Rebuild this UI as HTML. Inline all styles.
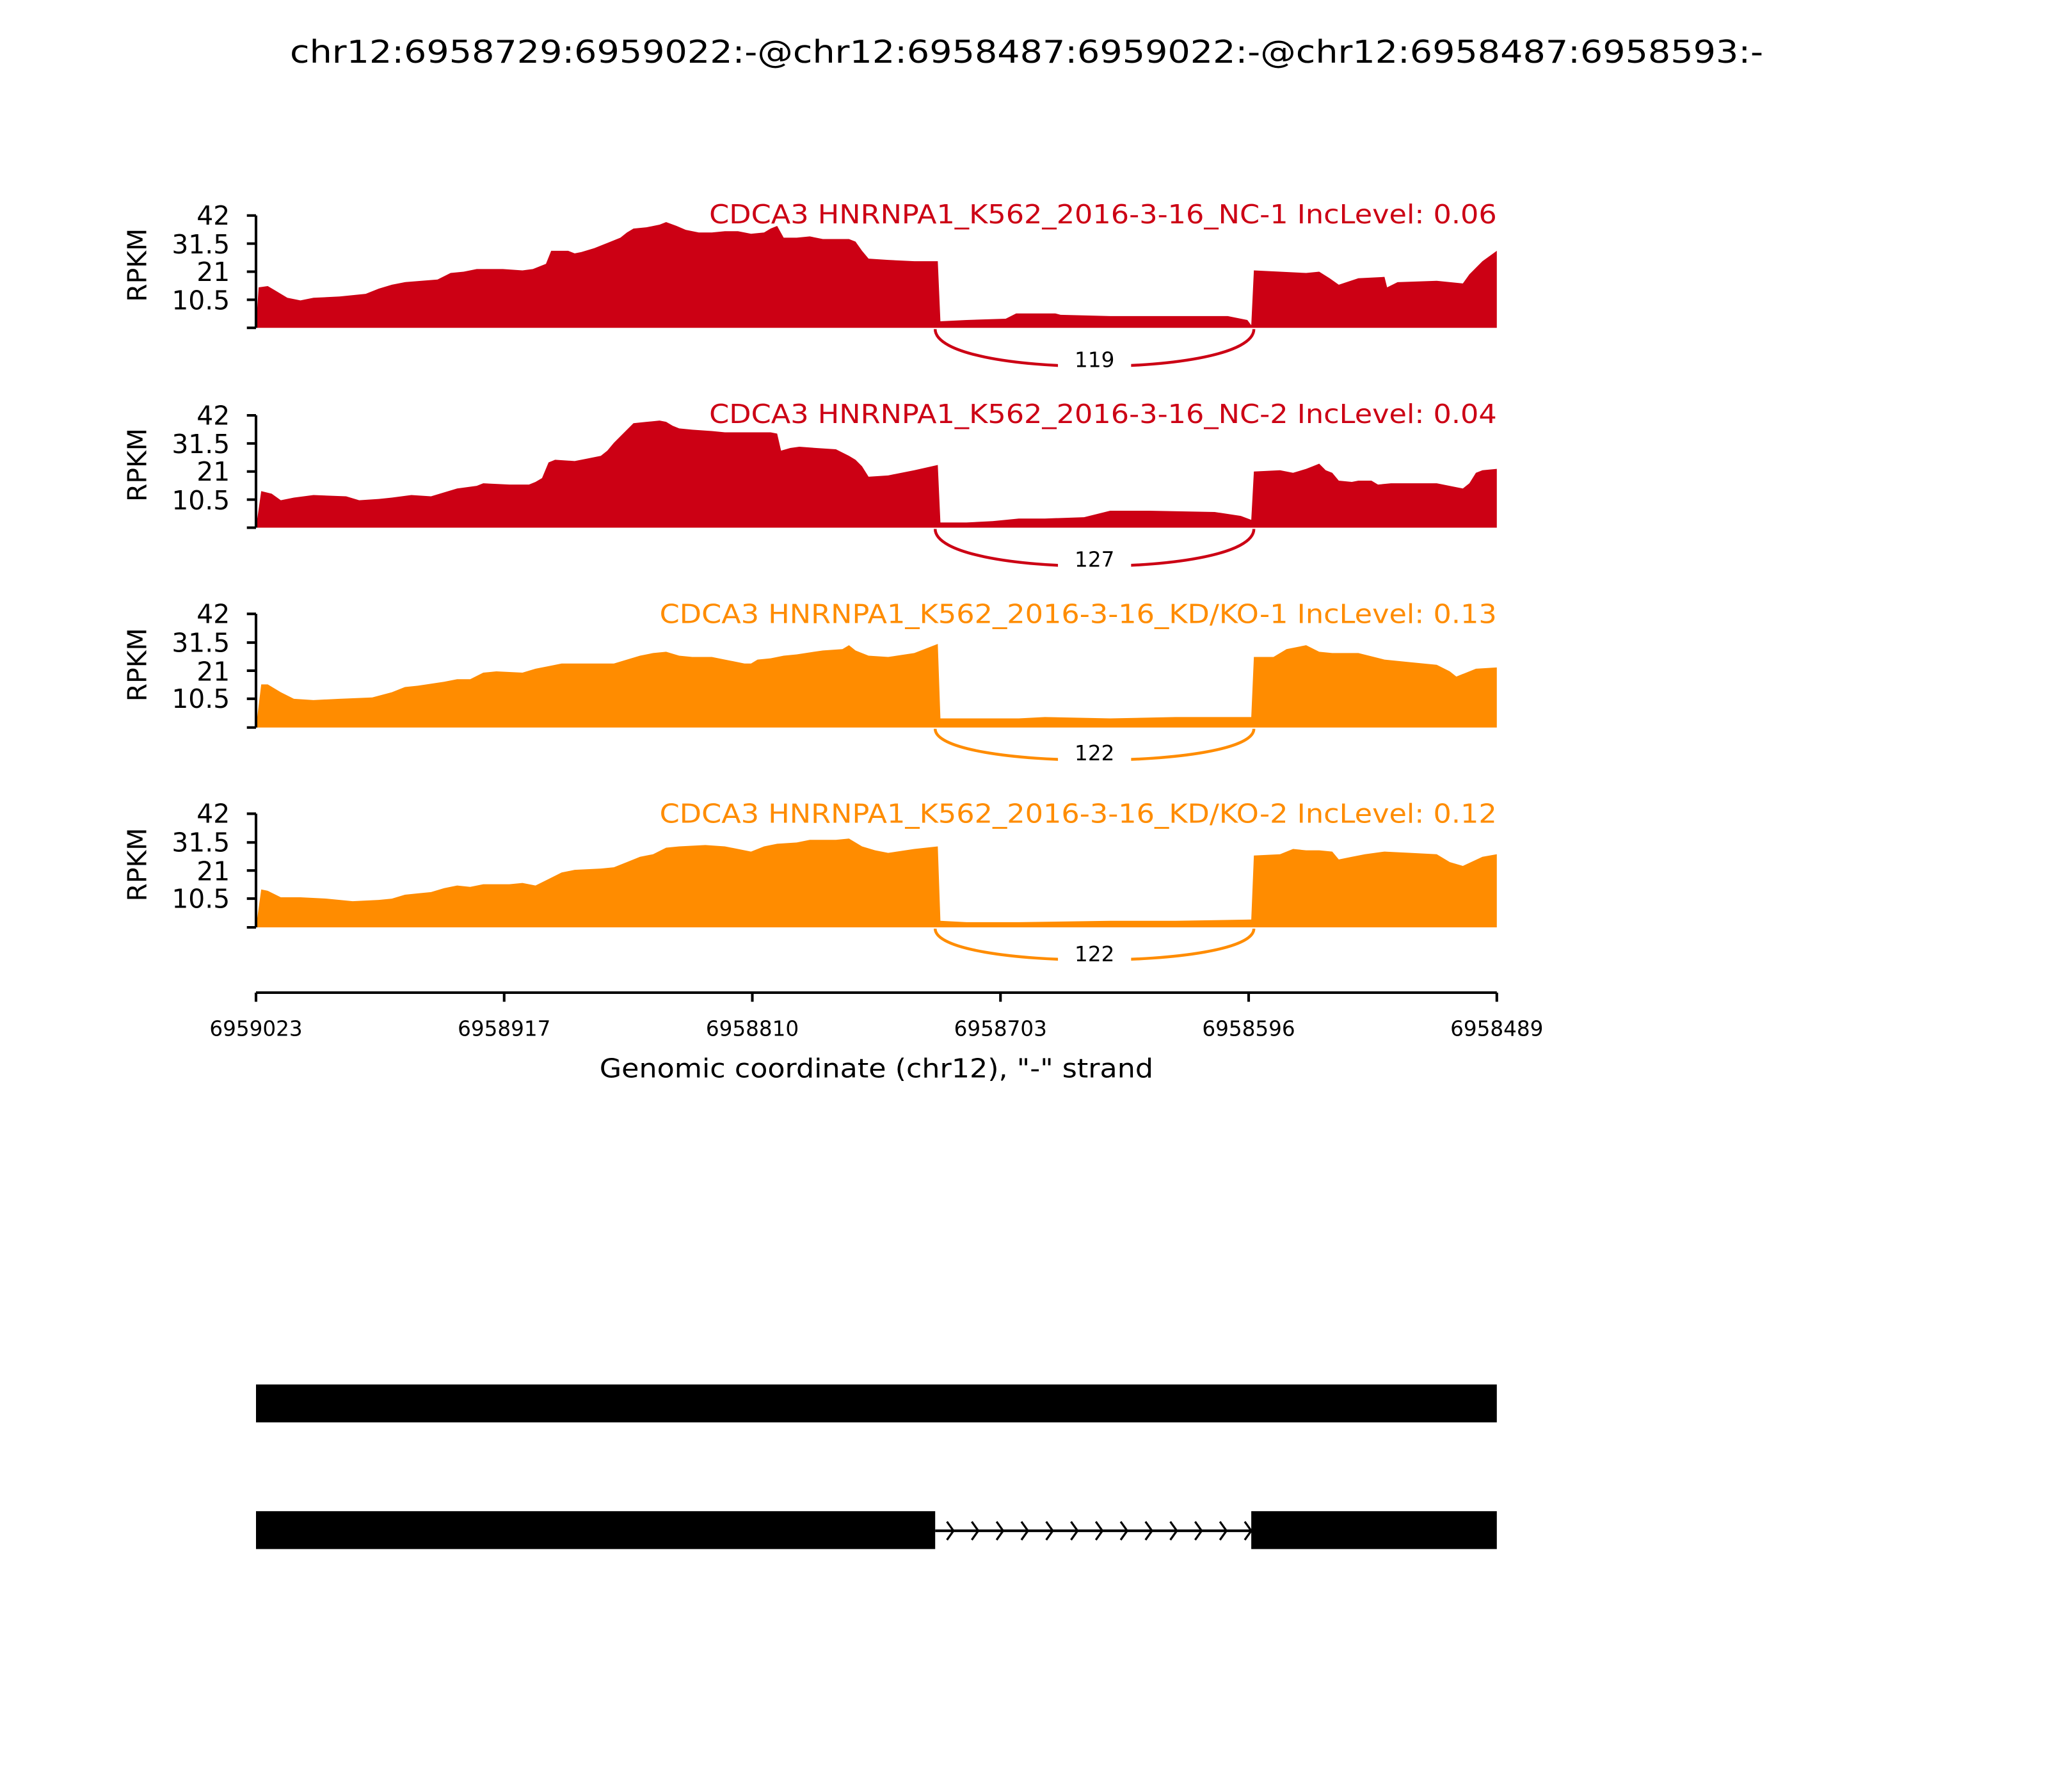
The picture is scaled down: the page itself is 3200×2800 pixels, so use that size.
<!DOCTYPE html>
<html><head><meta charset="utf-8"><style>html,body{margin:0;padding:0;background:#fff}svg{display:block}</style></head>
<body>
<svg width="3200" height="2800" viewBox="0 0 1568 1372" xmlns="http://www.w3.org/2000/svg" font-family="'DejaVu Sans','Liberation Sans',sans-serif">
<rect width="1568" height="1372" fill="#fff"/>
<text x="786" y="48" font-size="24" text-anchor="middle" textLength="1128" lengthAdjust="spacingAndGlyphs">chr12:6958729:6959022:-@chr12:6958487:6959022:-@chr12:6958487:6958593:-</text>

<g>
<path fill="#cc0014" d="M196,251 L198,220 205,219 210,222 220,228 230,230 240,228 260,227 280,225 290,221 300,218 310,216 335,214 345,209 355,208 365,206 375,206 385,206 400,207 408,206 418,202 422,192 435,192 440,194 445,193 455,190 465,186 475,182 480,178 485,175 495,174 505,172 510,170 518,173 525,176 535,178 545,178 555,177 565,177 575,179 585,178 590,175 595,173 600,182 610,182 620,181 630,183 650,183 655,185 660,192 665,198 680,199 700,200 718,200 720,246 740,245 770,244 778,240 808,240 812,241 850,242 940,242 955,245 958,249 960,207 980,208 1000,209 1010,208 1018,213 1025,218 1040,213 1060,212 1062,220 1070,216 1100,215 1120,217 1125,210 1135,200 1146,192 1146,251 Z"/>
<text x="1146" y="171" font-size="20" fill="#cc0014" text-anchor="end" textLength="603" lengthAdjust="spacingAndGlyphs">CDCA3 HNRNPA1_K562_2016-3-16_NC-1 IncLevel: 0.06</text>
<path d="M716,252 C716,290 960,290 960,252" fill="none" stroke="#cc0014" stroke-width="2.2"/>
<rect x="810" y="265" width="56" height="20" fill="#fff"/>
<text x="838" y="281" font-size="16" text-anchor="middle">119</text>
</g>

<g>
<path fill="#cc0014" d="M196,404 L200,376 208,378 215,383 225,381 240,379 265,380 275,383 290,382 300,381 315,379 330,380 340,377 350,374 365,372 370,370 390,371 405,371 410,369 415,366 420,354 425,352 440,353 450,351 460,349 465,345 470,339 478,331 485,324 495,323 505,322 510,323 515,326 520,328 530,329 545,330 555,331 575,331 590,331 595,332 598,345 605,343 612,342 625,343 640,344 650,349 655,352 660,357 665,365 680,364 700,360 718,356 720,400 740,400 760,399 780,397 800,397 830,396 850,391 880,391 930,392 950,395 958,398 960,361 980,360 990,362 1000,359 1005,357 1010,355 1015,360 1020,362 1025,368 1035,369 1040,368 1050,368 1055,371 1065,370 1080,370 1100,370 1115,373 1120,374 1125,370 1130,362 1135,360 1146,359 1146,404 Z"/>
<text x="1146" y="324" font-size="20" fill="#cc0014" text-anchor="end" textLength="603" lengthAdjust="spacingAndGlyphs">CDCA3 HNRNPA1_K562_2016-3-16_NC-2 IncLevel: 0.04</text>
<path d="M716,405 C716,443 960,443 960,405" fill="none" stroke="#cc0014" stroke-width="2.2"/>
<rect x="810" y="418" width="56" height="20" fill="#fff"/>
<text x="838" y="434" font-size="16" text-anchor="middle">127</text>
</g>

<g>
<path fill="#ff8c00" d="M196,557 L200,524 205,524 215,530 225,535 240,536 260,535 285,534 300,530 310,526 320,525 340,522 350,520 360,520 370,515 380,514 400,515 410,512 420,510 430,508 450,508 470,508 480,505 490,502 500,500 510,499 520,502 530,503 545,503 555,505 570,508 575,508 580,505 590,504 600,502 610,501 630,498 645,497 650,494 655,498 665,502 680,503 700,500 718,493 720,550 740,550 780,550 800,549 850,550 900,549 958,549 960,503 975,503 985,497 1000,494 1010,499 1020,500 1040,500 1060,505 1080,507 1100,509 1110,514 1115,518 1130,512 1146,511 1146,557 Z"/>
<text x="1146" y="477" font-size="20" fill="#ff8c00" text-anchor="end" textLength="641" lengthAdjust="spacingAndGlyphs">CDCA3 HNRNPA1_K562_2016-3-16_KD/KO-1 IncLevel: 0.13</text>
<path d="M716,558 C716,590 960,590 960,558" fill="none" stroke="#ff8c00" stroke-width="2.2"/>
<rect x="810" y="567" width="56" height="20" fill="#fff"/>
<text x="838" y="582" font-size="16" text-anchor="middle">122</text>
</g>

<g>
<path fill="#ff8c00" d="M196,710 L200,681 205,682 215,687 230,687 250,688 270,690 290,689 300,688 310,685 320,684 330,683 340,680 350,678 360,679 370,677 390,677 400,676 410,678 420,673 430,668 440,666 460,665 470,664 480,660 490,656 500,654 510,649 520,648 540,647 555,648 565,650 575,652 585,648 595,646 610,645 620,643 640,643 650,642 660,648 670,651 680,653 700,650 718,648 720,705 740,706 780,706 850,705 900,705 958,704 960,655 980,654 990,650 1000,651 1010,651 1020,652 1025,658 1035,656 1045,654 1060,652 1080,653 1100,654 1110,660 1120,663 1135,656 1146,654 1146,710 Z"/>
<text x="1146" y="630" font-size="20" fill="#ff8c00" text-anchor="end" textLength="641" lengthAdjust="spacingAndGlyphs">CDCA3 HNRNPA1_K562_2016-3-16_KD/KO-2 IncLevel: 0.12</text>
<path d="M716,711 C716,743 960,743 960,711" fill="none" stroke="#ff8c00" stroke-width="2.2"/>
<rect x="810" y="721" width="56" height="20" fill="#fff"/>
<text x="838" y="736" font-size="16" text-anchor="middle">122</text>
</g>

<g stroke="#000" stroke-width="2" fill="none">
<path d="M196,165V251M189,165H196M189,186.5H196M189,208H196M189,229.5H196M189,251H196"/>
<path d="M196,318V404M189,318H196M189,339.5H196M189,361H196M189,382.5H196M189,404H196"/>
<path d="M196,470V557M189,470H196M189,492H196M189,513.5H196M189,535H196M189,557H196"/>
<path d="M196,623V710M189,623H196M189,645H196M189,666.5H196M189,688H196M189,710H196"/>
</g>
<g font-size="20" text-anchor="end">
<text x="176" y="172">42</text><text x="176" y="194">31.5</text><text x="176" y="215">21</text><text x="176" y="237">10.5</text>
<text x="176" y="325">42</text><text x="176" y="347">31.5</text><text x="176" y="368">21</text><text x="176" y="390">10.5</text>
<text x="176" y="477">42</text><text x="176" y="499">31.5</text><text x="176" y="521">21</text><text x="176" y="542">10.5</text>
<text x="176" y="630">42</text><text x="176" y="652">31.5</text><text x="176" y="674">21</text><text x="176" y="695">10.5</text>
</g>
<g font-size="20" text-anchor="middle">
<text transform="translate(112,203) rotate(-90)">RPKM</text>
<text transform="translate(112,356) rotate(-90)">RPKM</text>
<text transform="translate(112,509) rotate(-90)">RPKM</text>
<text transform="translate(112,662) rotate(-90)">RPKM</text>
</g>

<path d="M196,760H1146M196,760v7M386,760v7M576,760v7M766,760v7M956,760v7M1146,760v7" stroke="#000" stroke-width="2" fill="none"/>
<g font-size="16" text-anchor="middle">
<text x="196" y="793">6959023</text><text x="386" y="793">6958917</text><text x="576" y="793">6958810</text>
<text x="766" y="793">6958703</text><text x="956" y="793">6958596</text><text x="1146" y="793">6958489</text>
</g>
<text x="671" y="825" font-size="20" text-anchor="middle" textLength="424" lengthAdjust="spacingAndGlyphs">Genomic coordinate (chr12), "-" strand</text>

<rect x="196" y="1060" width="950" height="29" fill="#000"/>
<rect x="196" y="1157" width="520" height="29" fill="#000"/>
<rect x="958" y="1157" width="188" height="29" fill="#000"/>
<path d="M716,1172H958" stroke="#000" stroke-width="2"/>
<g stroke="#000" stroke-width="1.6" fill="none">
<path d="M725,1165l5,7l-5,7M744,1165l5,7l-5,7M763,1165l5,7l-5,7M782,1165l5,7l-5,7M801,1165l5,7l-5,7M820,1165l5,7l-5,7M839,1165l5,7l-5,7M858,1165l5,7l-5,7M877,1165l5,7l-5,7M896,1165l5,7l-5,7M915,1165l5,7l-5,7M934,1165l5,7l-5,7M953,1165l5,7l-5,7"/>
</g>
</svg>
</body></html>
